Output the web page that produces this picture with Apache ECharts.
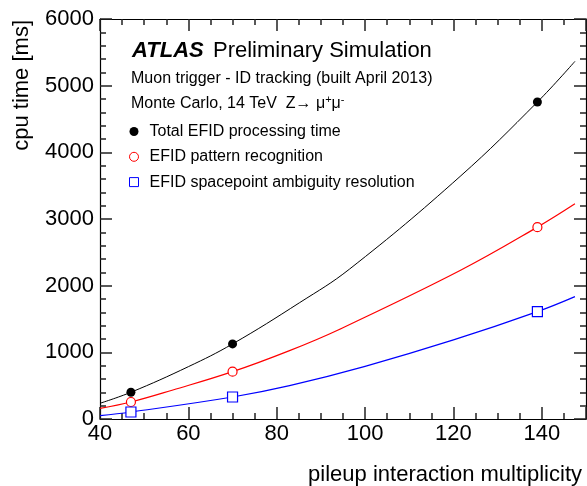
<!DOCTYPE html>
<html><head><meta charset="utf-8">
<script src="https://cdn.jsdelivr.net/npm/echarts@6/dist/echarts.min.js"></script>
<style>html,body{margin:0;padding:0;background:#fff}#c{width:587px;height:486px}</style>
</head><body><div id="c"></div>
<script>
// ---- data ----
const xAxisTitle = 'pileup interaction multiplicity';
const yAxisTitle = 'cpu time [ms]';
const legendNames = ['Total EFID processing time', 'EFID pattern recognition', 'EFID spacepoint ambiguity resolution'];

// measured points
const pointX = [47, 70, 139];
const totalY = [401, 1126, 4755];
const patternY = [255, 710, 2878];
const spacepointY = [105, 330, 1611];

// fitted curves
const totalFitX = [40, 47, 60, 70, 85.2, 96.5, 121.5, 139, 147.5];
const totalFitY = [236, 401, 785, 1126, 1746, 2250, 3638, 4755, 5365];
const patternFitX = [40, 47, 56.5, 70, 82.9, 93.9, 121.5, 139, 147.5];
const patternFitY = [160, 255, 435, 710, 1026, 1336, 2227, 2878, 3228];
const spacepointFitX = [40, 47, 70, 82.9, 100, 120, 139, 147.5];
const spacepointFitY = [50, 105, 330, 500, 790, 1186, 1611, 1836];

const FONT = '"Liberation Sans", Arial, Helvetica, sans-serif';
const zip = (xs, ys) => xs.map((x, i) => [x, ys[i]]);
const chart = echarts.init(document.getElementById('c'), null, {renderer: 'canvas'});
const black = '#000000', red = '#ff0000', blue = '#0000ff';
const tickStyle = {color: '#222222', width: 1.5};
const frameStyle = {color: black, width: 1.2};
const noSplit = {show: false};

function xAx(pos, labels) {
  return {
    type: 'value', position: pos, min: 40, max: 150, interval: 20,
    axisLine: {show: true, onZero: false, lineStyle: frameStyle},
    axisTick: {show: true, inside: true, length: 12, lineStyle: tickStyle},
    minorTick: {show: true, splitNumber: 4, length: 6, lineStyle: tickStyle},
    axisLabel: {show: labels, fontSize: 22, color: black, fontFamily: FONT, margin: 4,
      showMaxLabel: false, formatter: v => String(v)},
    splitLine: noSplit
  };
}
function yAx(pos, labels) {
  return {
    type: 'value', position: pos, min: 0, max: 6000, interval: 1000,
    axisLine: {show: true, onZero: false, lineStyle: frameStyle},
    axisTick: {show: true, inside: true, length: 12, lineStyle: tickStyle},
    minorTick: {show: true, splitNumber: 5, length: 6, lineStyle: tickStyle},
    axisLabel: {show: labels, fontSize: 22, color: black, fontFamily: FONT, margin: 6, formatter: v => String(v)},
    splitLine: noSplit
  };
}

const option = {
  animation: false,
  backgroundColor: '#ffffff',
  grid: {left: 100, right: 1, top: 19, bottom: 67},
  xAxis: [xAx('bottom', true), xAx('top', false)],
  yAxis: [yAx('left', true), yAx('right', false)],
  legend: {
    orient: 'vertical', left: 129, top: 123.5, padding: 0,
    itemWidth: 21, itemHeight: 9, itemGap: 9.3, selectedMode: false,
    textStyle: {fontSize: 16, lineHeight: 16, color: black, fontFamily: FONT},
    data: [
      {name: legendNames[0], icon: 'circle', itemStyle: {color: black, borderWidth: 0, opacity: 1}},
      {name: legendNames[1], icon: 'circle', itemStyle: {color: '#ffffff', borderColor: red, borderWidth: 1, opacity: 1}},
      {name: legendNames[2], icon: 'path://M0,0L10,0L10,10L0,10Z', itemStyle: {color: '#ffffff', borderColor: blue, borderWidth: 1, opacity: 1}}
    ]
  },
  series: [
    {type: 'line', name: 'totalFit', data: zip(totalFitX, totalFitY), smooth: 0.4, showSymbol: false, lineStyle: {color: black, width: 1}},
    {type: 'line', name: 'patternFit', data: zip(patternFitX, patternFitY), smooth: 0.4, showSymbol: false, lineStyle: {color: red, width: 1.2}},
    {type: 'line', name: 'spacepointFit', data: zip(spacepointFitX, spacepointFitY), smooth: 0.4, showSymbol: false, lineStyle: {color: blue, width: 1.2}},
    {type: 'scatter', name: legendNames[0], data: zip(pointX, totalY), symbol: 'circle', symbolSize: 9, itemStyle: {color: black, opacity: 1}, z: 5},
    {type: 'scatter', name: legendNames[1], data: zip(pointX, patternY), symbol: 'circle', symbolSize: 9, itemStyle: {color: '#ffffff', borderColor: red, borderWidth: 1.2, opacity: 1}, z: 5},
    {type: 'scatter', name: legendNames[2], data: zip(pointX, spacepointY), symbol: 'rect', symbolSize: 10, itemStyle: {color: '#ffffff', borderColor: blue, borderWidth: 1.2, opacity: 1}, z: 5}
  ],
  graphic: [
    {type: 'text', x: 132, y: 51, style: {text: 'ATLAS', font: 'italic bold 22px ' + FONT, fill: black,
      align: 'left', verticalAlign: 'middle', textAlign: 'left', textVerticalAlign: 'middle'}},
    {type: 'text', x: 213, y: 51, style: {text: 'Preliminary Simulation', font: '22px ' + FONT, fill: black,
      align: 'left', verticalAlign: 'middle', textAlign: 'left', textVerticalAlign: 'middle'}},
    {type: 'text', x: 131, y: 78.5, style: {text: 'Muon trigger - ID tracking (built April 2013)', font: '16px ' + FONT, fill: black,
      align: 'left', verticalAlign: 'middle', textAlign: 'left', textVerticalAlign: 'middle'}},
    {type: 'text', x: 131, y: 104, style: {
      text: '{m|Monte Carlo, 14 TeV  Z\u2192 \u03bc}{s|+}{m|\u03bc}{s|-}',
      rich: {
        m: {font: '16px ' + FONT, fill: black, lineHeight: 20},
        s: {font: '11px ' + FONT, fill: black, lineHeight: 11, verticalAlign: 'top'}
      },
      align: 'left', verticalAlign: 'middle', textAlign: 'left', textVerticalAlign: 'middle'}},
    {type: 'text', x: 22, y: 20, rotation: Math.PI / 2, style: {text: yAxisTitle, font: '22px ' + FONT, fill: black,
      align: 'right', verticalAlign: 'middle', textAlign: 'right', textVerticalAlign: 'middle'}},
    {type: 'text', x: 582, y: 475, style: {text: xAxisTitle, font: '22px ' + FONT, fill: black,
      align: 'right', verticalAlign: 'middle', textAlign: 'right', textVerticalAlign: 'middle'}}
  ]
};
chart.setOption(option);
</script>
</body></html>
